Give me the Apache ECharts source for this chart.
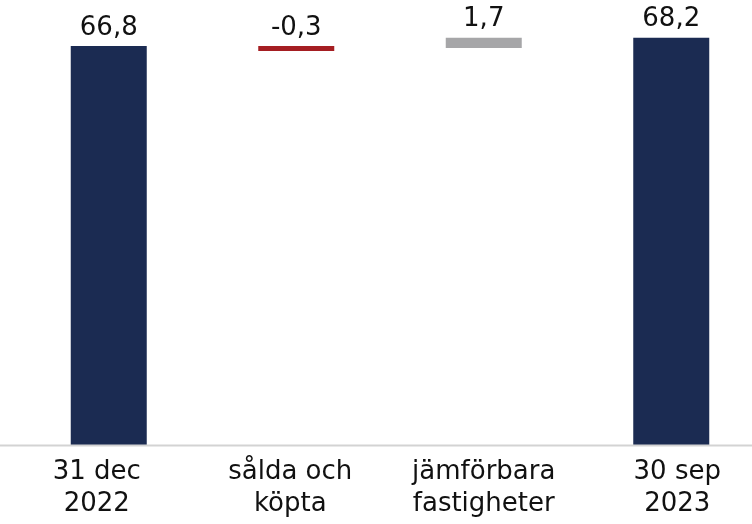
<!DOCTYPE html>
<html>
<head>
<meta charset="utf-8">
<script src="https://cdn.jsdelivr.net/npm/echarts@6/dist/echarts.min.js"></script>
<style>
    html, body { margin: 0; padding: 0; background: #fff; }
    #chart { width: 752px; height: 524px; }
</style>
</head>
<body>
<div id="chart"></div>
<script>
const categories = ['31 dec\n2022', 'sålda och\nköpta', 'jämförbara\nfastigheter', '30 sep\n2023'];
const startValue = 66.8;
const changes = [-0.3, 1.7];
const endValue = 68.2;
const colors = {
    total: '#1b2b52',
    down: '#a51e22',
    up: '#a6a6a8',
    axis: '#d3d3d3'
};

/*build waterfall rows*/
const baseData = [0];
const barData = [{ value: startValue, itemStyle: { color: colors.total } }];
let running = startValue;
changes.forEach(function (c) {
    baseData.push(running);
    barData.push({ value: c, itemStyle: { color: c < 0 ? colors.down : colors.up } });
    running += c;
});
baseData.push(0);
barData.push({ value: endValue, itemStyle: { color: colors.total } });

const fmt = function (v) {
    return String(v).replace('.', ',');
};

const chart = echarts.init(document.getElementById('chart'));
const font = '"DejaVu Sans", Verdana, sans-serif';

chart.setOption({
    animation: false,
    grid: [
        // bars
        { left: 15, width: 750, top: 27, bottom: 79, outerBoundsMode: 'none' },
        // category labels sit a little off the bar centres in the original
        { left: 0, width: 774, top: 27, bottom: 79, outerBoundsMode: 'none' }
    ],
    xAxis: [
        {
            type: 'category',
            data: categories,
            axisLine: { show: false },
            axisTick: { show: false },
            axisLabel: { show: false }
        },
        {
            type: 'category',
            gridIndex: 1,
            data: categories,
            axisLine: { show: false },
            axisTick: { show: false },
            axisLabel: {
                interval: 0,
                margin: 11,
                fontFamily: font,
                fontSize: 26,
                lineHeight: 32,
                color: '#111'
            }
        }
    ],
    yAxis: [
        { type: 'value', min: 0, max: 70, show: false },
        { type: 'value', gridIndex: 1, min: 0, max: 70, show: false }
    ],
    series: [
        {
            type: 'bar',
            stack: 'w',
            stackStrategy: 'all',
            barWidth: 76,
            itemStyle: { color: 'transparent' },
            silent: true,
            data: baseData
        },
        {
            type: 'bar',
            stack: 'w',
            stackStrategy: 'all',
            barWidth: 76,
            barMinHeight: 5,
            label: {
                show: true,
                position: 'top',
                distance: 5,
                fontFamily: font,
                fontSize: 26,
                color: '#111',
                formatter: function (p) {
                    return fmt(p.value);
                }
            },
            data: barData
        }
    ]
});

/*full width baseline*/
const y0 = chart.convertToPixel({ yAxisIndex: 0 }, 0);
chart.setOption({
    graphic: [{
        type: 'line',
        shape: { x1: 0, y1: Math.round(y0) + 0.5, x2: 752, y2: Math.round(y0) + 0.5 },
        style: { stroke: colors.axis, lineWidth: 2 },
        z: 10
    }]
});
</script>
</body>
</html>
